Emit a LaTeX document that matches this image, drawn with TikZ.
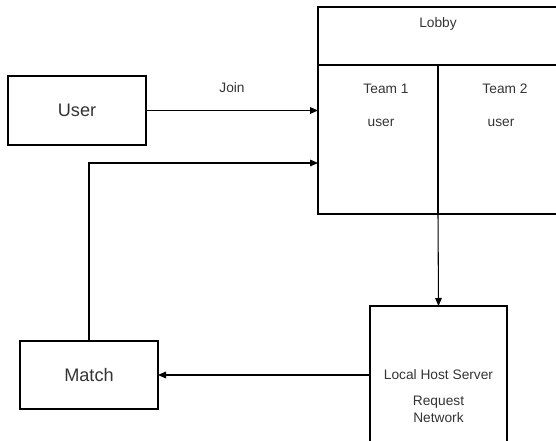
\documentclass[tikz,border=0pt]{standalone}
\usepackage{fontspec}
\setmainfont{Liberation Sans}
\usepackage{tikz}
\usetikzlibrary{positioning,arrows.meta}
\definecolor{inkgray}{HTML}{333333}

\begin{document}
\begin{tikzpicture}[x=0.75pt, y=-0.75pt, line width=0.8pt, >={Triangle[length=6pt,width=5pt]},
        box/.style={rectangle, draw=black, inner sep=0pt, outer sep=0pt},
        small/.style={text=inkgray, font=\fontsize{10.3}{12.5}\selectfont, inner sep=0pt},
        big/.style={text=inkgray, font=\fontsize{13.6}{16}\selectfont}]
        \useasboundingbox (0,0) rectangle (556,441);
        \clip (0,0) rectangle (556,441);
        % boxes
        \node [box, minimum width=103.5pt, minimum height=51.75pt, big] (user) at (77,110.5) {User};
        \node [box, minimum width=103.5pt, minimum height=51pt, big] (match) at (89,375) {Match};
        \node [box, minimum width=211.5pt, minimum height=43.5pt] (lobby) at (459,36) {};
        \node [box, minimum width=90pt, minimum height=111.75pt] (team1) at (378,139.5) {};
        \node [box, minimum width=121.5pt, minimum height=111.75pt] (team2) at (519,139.5) {};
        \node [box, minimum width=102.75pt, minimum height=135pt, small, align=center] (server) at (438.5,396)
            {Local Host Server\\[7pt]Request\\Network};
        % texts
        \node [small] (lobbytitle) at (438,24) {Lobby};
        \node [small] (team1title) at (386,89) {Team 1};
        \node [small] (team2title) at (505,89) {Team 2};
        \node [small] (team1user) at (381,123) {user};
        \node [small] (team2user) at (501,123) {user};
        % arrows
        \coordinate (back) at (318,163);
        \draw [->] (user.east) -- node [small, above=13pt] (join) {Join} (user.east -| team1.west);
        \draw [->] (match.north) |- (back);
        \draw [->] (team1.south east) -- (server.north);
        \draw [->] (server.west |- match.east) -- (match.east);
\end{tikzpicture}
\end{document}
